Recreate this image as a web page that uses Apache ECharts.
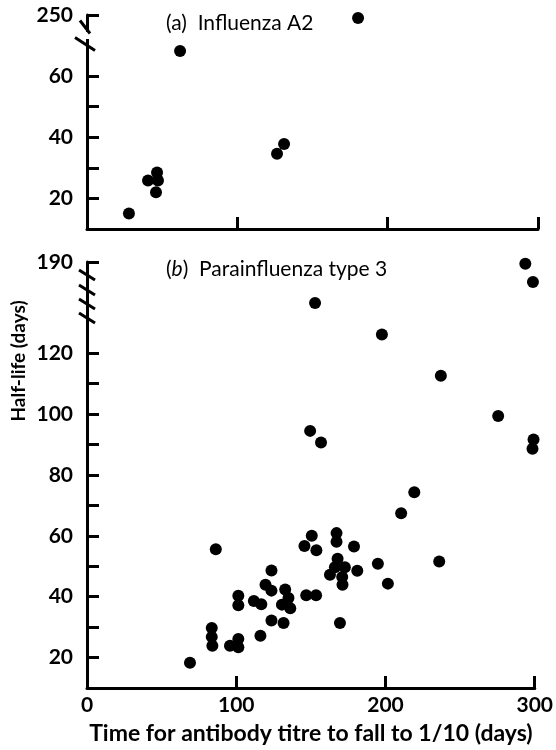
<!DOCTYPE html>
<html>
<head>
<meta charset="utf-8">
<script src="https://cdn.jsdelivr.net/npm/echarts@6/dist/echarts.min.js"></script>
<style>html,body{margin:0;padding:0;background:#fff}#c{width:556px;height:750px}</style>
</head>
<body>
<div id="c"></div>
<script>
// Panel (a) Influenza A2 — y in display scale (axis broken above ~70, top tick labelled 250)
const topX = [27.9, 40.6, 46.6, 47.2, 45.9, 61.9, 126.4, 131.1, 180.3];
const topY = [15.1, 25.9, 28.5, 25.9, 22.0, 68.2, 34.6, 37.8, 79.0];
// Panel (b) Parainfluenza type 3 — y in display scale (axis broken above ~130, top tick labelled 190)
const botX = [69.0, 83.6, 83.6, 84.0, 86.3, 95.8, 101.4, 101.4, 101.4, 101.4,
  111.8, 116.8, 116.2, 123.6, 123.6, 119.6, 123.6, 132.8, 135.0, 130.6,
  136.2, 131.7, 146.9, 153.5, 150.6, 145.7, 153.7, 167.2, 167.2, 178.9,
  167.9, 172.8, 181.1, 166.1, 162.8, 171.0, 171.2, 169.5, 194.9, 201.6,
  210.5, 219.3, 236.0, 149.5, 156.8, 197.6, 237.1, 275.5, 299.2, 298.5,
  152.8, 293.7, 298.8];
const botY = [18.3, 29.7, 26.8, 23.9, 55.6, 23.9, 26.1, 23.4, 40.3, 37.2,
  38.6, 37.5, 27.2, 32.2, 48.6, 43.9, 42.0, 42.4, 39.6, 37.4,
  36.2, 31.4, 40.5, 40.5, 60.0, 56.7, 55.3, 60.9, 58.1, 56.5,
  52.5, 49.7, 48.5, 49.7, 47.2, 46.5, 43.9, 31.4, 50.8, 44.3,
  67.4, 74.3, 51.6, 94.5, 90.7, 126.2, 112.6, 99.4, 91.7, 88.6,
  136.5, 149.4, 143.4];
const xTickLabels = [0, 100, 200, 300];
const topYTicks = [20, 30, 40, 50, 60, 80];
const topYLabels = [20, 40, 60, 80];
const topBreakLabel = '250';
const botYTicks = [20, 30, 40, 50, 60, 70, 80, 90, 100, 110, 120, 150];
const botYLabels = [20, 40, 60, 80, 100, 120, 150];
const botBreakLabel = '190';

const FONT = 'Lato';
const INK = '#000';
const chart = echarts.init(document.getElementById('c'), null, {renderer: 'canvas'});

function xAxisCfg(gi, showLabels) {
  return {
    type: 'value', gridIndex: gi, min: 0, max: 300, interval: 100,
    splitLine: {show: false},
    axisLine: {show: true, onZero: false, lineStyle: {color: INK, width: 3}},
    axisTick: {show: true, inside: true, length: 12, lineStyle: {color: INK, width: 3}, customValues: [100, 200, 300]},
    axisLabel: {show: showLabels, customValues: xTickLabels, color: INK, fontFamily: FONT, fontWeight: 'bold', fontSize: 21, margin: 7},
    name: showLabels ? 'Time for antibody titre to fall to 1/10 (days)' : '',
    nameLocation: 'middle', nameGap: 34,
    nameTextStyle: {color: INK, fontFamily: FONT, fontWeight: 'bold', fontSize: 23}
  };
}
function yAxisCfg(gi, max, ticks, labels, topLabel) {
  return {
    type: 'value', gridIndex: gi, min: 10, max: max, interval: 10,
    splitLine: {show: false},
    axisLine: {show: true, onZero: false, lineStyle: {color: INK, width: 3}},
    axisTick: {show: true, inside: true, length: 12, lineStyle: {color: INK, width: 3}, customValues: ticks},
    axisLabel: {customValues: labels, color: INK, fontFamily: FONT, fontWeight: 'bold', fontSize: 21, margin: 14,
      formatter: v => (v === max ? topLabel : String(v))}
  };
}

chart.setOption({
  animation: false,
  backgroundColor: '#fff',
  title: [
    {text: '(a)  Influenza A2', left: 161, top: 8,
      textStyle: {color: INK, fontFamily: FONT, fontWeight: 'normal', fontSize: 21}},
    {text: '({i|b})  Parainfluenza type 3', left: 161, top: 254,
      textStyle: {color: INK, fontFamily: FONT, fontWeight: 'normal', fontSize: 21,
        rich: {i: {fontStyle: 'italic', color: INK, fontFamily: FONT, fontSize: 21}}}}
  ],
  grid: [
    {left: 87, right: 18, top: 15, height: 214},
    {left: 87, right: 18, top: 262, height: 428}
  ],
  xAxis: [xAxisCfg(0, false), xAxisCfg(1, true)],
  yAxis: [
    yAxisCfg(0, 80, topYTicks, topYLabels, topBreakLabel),
    yAxisCfg(1, 150, botYTicks, botYLabels, botBreakLabel)
  ],
  series: [
    {type: 'scatter', xAxisIndex: 0, yAxisIndex: 0, symbolSize: 12,
      itemStyle: {color: '#000', opacity: 1}, data: topX.map((x, i) => [x, topY[i]])},
    {type: 'scatter', xAxisIndex: 1, yAxisIndex: 1, symbolSize: 12,
      itemStyle: {color: '#000', opacity: 1}, data: botX.map((x, i) => [x, botY[i]])}
  ]
});

// axis-break decorations and rotated y-axis title
const g = [];
function stroke(cx, cy, w, h) {
  g.push({type: 'line', shape: {x1: cx - w / 2, y1: cy - h / 2, x2: cx + w / 2, y2: cy + h / 2},
    style: {stroke: INK, lineWidth: 3}, z: 20});
}
const tTop = chart.convertToPixel({gridIndex: 0}, [0, 80]);
g.push({type: 'rect', shape: {x: tTop[0] - 3, y: tTop[1] + 17, width: 6, height: 7}, style: {fill: '#fff'}, z: 15});
stroke(tTop[0] - 2, tTop[1] + 12, 10, 13);
stroke(tTop[0] - 2, tTop[1] + 29, 20, 13);
const bTop = chart.convertToPixel({gridIndex: 1}, [0, 150]);
[13, 28, 42, 56].forEach(d => stroke(bTop[0], bTop[1] + d, 16, 10));
g.push({type: 'text', x: 19, y: 361, rotation: Math.PI / 2,
  style: {text: 'Half-life (days)', fill: INK, font: 'bold 19px ' + FONT, align: 'center', verticalAlign: 'middle'}});
chart.setOption({graphic: g});
</script>
</body>
</html>
